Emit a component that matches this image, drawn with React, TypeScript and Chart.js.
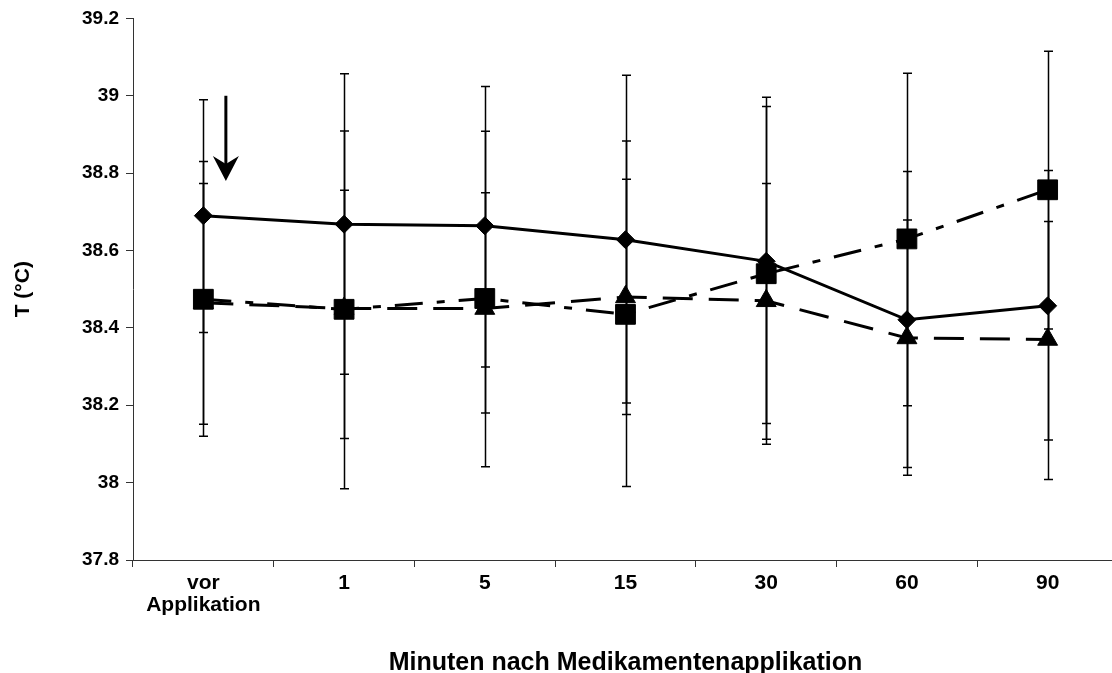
import React, { useEffect, useRef } from "react";
import { Chart, registerables } from "chart.js";

Chart.register(...registerables);

const categories: (string | string[])[] = [["vor", "Applikation"], "1", "5", "15", "30", "60", "90"];
const yTickValues = [37.8, 38, 38.2, 38.4, 38.6, 38.8, 39, 39.2];

// Series 1 (diamonds, solid line)
const diamondMean = [38.69, 38.668, 38.664, 38.628, 38.572, 38.421, 38.457];
const diamondUpper = [38.99, 39.057, 39.024, 39.053, 38.996, 38.804, 38.807];
const diamondLower = [38.388, 38.28, 38.299, 38.206, 38.153, 38.039, 38.11];

// Series 2 (squares, dash-dot line)
const squareMean = [38.474, 38.448, 38.476, 38.435, 38.54, 38.63, 38.757];
const squareUpper = [38.83, 38.909, 38.908, 38.883, 38.972, 39.058, 39.115];
const squareLower = [38.12, 37.984, 38.041, 37.99, 38.112, 38.199, 38.397];

// Series 3 (triangles, dashed line)
const triangleMean = [38.465, 38.45, 38.45, 38.48, 38.47, 38.374, 38.37];
const triangleUpper = [38.773, 38.756, 38.749, 38.784, 38.773, 38.679, 38.675];
const triangleLower = [38.151, 38.114, 38.18, 38.176, 38.099, 38.019, 38.008];

// Arrow annotation (at first category)
const arrowTop = 39.0;
const arrowTip = 38.78;
const arrowOffset = 0.16; // fraction of a category to the right

const FONT = "'Liberation Sans', Arial, sans-serif";
const CANVAS_W = 1118;

const errorBars = [
  { upper: diamondUpper, lower: diamondLower },
  { upper: squareUpper, lower: squareLower },
  { upper: triangleUpper, lower: triangleLower },
];

const errorBarPlugin = {
  id: "errorBars",
  beforeDatasetsDraw(chart: any) {
    const ctx = chart.ctx;
    const y = chart.scales.y;
    ctx.save();
    ctx.strokeStyle = "#000";
    ctx.lineWidth = 1.5;
    errorBars.forEach((eb, i) => {
      const meta = chart.getDatasetMeta(i);
      meta.data.forEach((pt: any, j: number) => {
        const x = Math.round(pt.x) + 0.5;
        const yh = y.getPixelForValue(eb.upper[j]);
        const yl = y.getPixelForValue(eb.lower[j]);
        ctx.beginPath();
        ctx.moveTo(x, yh);
        ctx.lineTo(x, yl);
        ctx.moveTo(x - 4.5, yh);
        ctx.lineTo(x + 4.5, yh);
        ctx.moveTo(x - 4.5, yl);
        ctx.lineTo(x + 4.5, yl);
        ctx.stroke();
      });
    });
    ctx.restore();
  },
};

const arrowPlugin = {
  id: "arrow",
  afterDatasetsDraw(chart: any) {
    const ctx = chart.ctx;
    const xs = chart.scales.x;
    const ys = chart.scales.y;
    const step = xs.getPixelForValue(1) - xs.getPixelForValue(0);
    const x = xs.getPixelForValue(0) + arrowOffset * step;
    const y0 = ys.getPixelForValue(arrowTop);
    const y1 = ys.getPixelForValue(arrowTip);
    ctx.save();
    ctx.strokeStyle = "#000";
    ctx.fillStyle = "#000";
    ctx.lineWidth = 3;
    ctx.beginPath();
    ctx.moveTo(x, y0);
    ctx.lineTo(x, y1 - 12);
    ctx.stroke();
    ctx.beginPath();
    ctx.moveTo(x, y1);
    ctx.lineTo(x - 13, y1 - 25);
    ctx.lineTo(x, y1 - 17);
    ctx.lineTo(x + 13, y1 - 25);
    ctx.closePath();
    ctx.fill();
    ctx.restore();
  },
};

export default function App() {
  const ref = useRef<HTMLCanvasElement>(null);

  useEffect(() => {
    document.body.style.margin = "0";
    document.body.style.overflow = "hidden";
    const canvas = ref.current!;
    const chart = new Chart(canvas, {
      type: "line",
      data: {
        labels: categories,
        datasets: [
          {
            data: diamondMean,
            borderColor: "#000",
            backgroundColor: "#000",
            borderWidth: 3,
            pointStyle: "rectRot",
            pointRadius: 9,
            pointBorderWidth: 1,
            pointBackgroundColor: "#000",
            pointBorderColor: "#000",
            tension: 0,
          },
          {
            data: squareMean,
            borderColor: "#000",
            backgroundColor: "#000",
            borderWidth: 3,
            borderDash: [28, 14, 8, 14],
            pointStyle: "rect",
            pointRadius: 14,
            pointBorderWidth: 1,
            pointBackgroundColor: "#000",
            pointBorderColor: "#000",
            tension: 0,
          },
          {
            data: triangleMean,
            borderColor: "#000",
            backgroundColor: "#000",
            borderWidth: 3,
            borderDash: [30, 16],
            pointStyle: "triangle",
            pointRadius: 11.5,
            pointBorderWidth: 1,
            pointBackgroundColor: "#000",
            pointBorderColor: "#000",
            tension: 0,
          },
        ],
      },
      options: {
        responsive: false,
        animation: false,
        events: [],
        layout: { autoPadding: false, padding: { top: 16, right: 0, left: 0, bottom: 0 } },
        plugins: {
          legend: { display: false },
          tooltip: { enabled: false },
        },
        scales: {
          x: {
            type: "category",
            offset: true,
            grid: {
              offset: true,
              drawOnChartArea: false,
              drawTicks: true,
              tickLength: 7,
              color: "#333",
            },
            border: { color: "#333", width: 1 },
            ticks: {
              color: "#000",
              font: { family: FONT, size: 21, weight: "bold", lineHeight: 1.05 },
              maxRotation: 0,
              autoSkip: false,
              padding: 5,
            },
            title: {
              display: true,
              text: "Minuten nach Medikamentenapplikation",
              color: "#000",
              font: { family: FONT, size: 25, weight: "bold" },
              padding: { top: 16, bottom: -5 },
            },
            afterFit(scale: any) {
              scale.height = 113;
              scale.paddingLeft = 0;
              scale.paddingRight = 0;
            },
          },
          y: {
            min: 37.8,
            max: 39.2,
            afterBuildTicks(scale: any) {
              scale.ticks = yTickValues.map((v) => ({ value: v }));
            },
            grid: {
              drawOnChartArea: false,
              drawTicks: true,
              tickLength: 7,
              color: "#333",
            },
            border: { color: "#333", width: 1 },
            ticks: {
              color: "#000",
              font: { family: FONT, size: 19, weight: "bold" },
              padding: 7,
              callback: (v: any) => String(Math.round(Number(v) * 10) / 10),
            },
            title: {
              display: true,
              text: "T (°C)",
              color: "#000",
              font: { family: FONT, size: 21, weight: "bold" },
              padding: { top: 11, bottom: 0 },
            },
            afterFit(scale: any) {
              scale.width = 133;
            },
          },
        },
      },
      plugins: [errorBarPlugin, arrowPlugin],
    });
    return () => chart.destroy();
  }, []);

  return (
    <div style={{ position: "absolute", left: 0, top: 0, width: 1112, height: 673, overflow: "hidden", background: "#fff" }}>
      <canvas ref={ref} width={CANVAS_W} height={673} style={{ width: CANVAS_W, height: 673, display: "block" }} />
    </div>
  );
}
